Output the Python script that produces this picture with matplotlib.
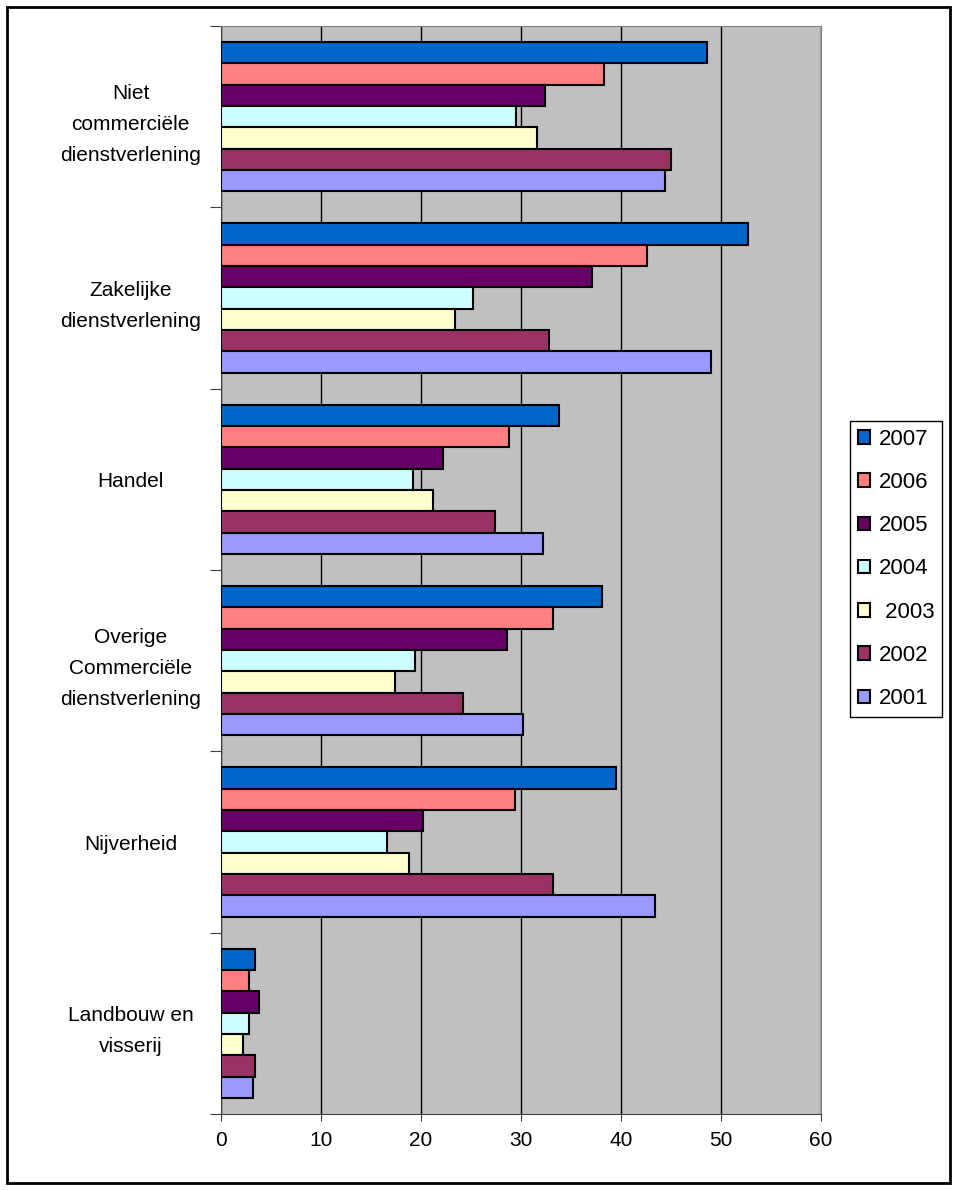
import numpy as np
import matplotlib
matplotlib.use('Agg')
import matplotlib.pyplot as plt
from matplotlib.patches import Rectangle

plt.rcParams['font.family'] = ['Liberation Sans', 'DejaVu Sans']

categories = ['Landbouw en\nvisserij', 'Nijverheid', 'Overige\nCommerciële\ndienstverlening',
              'Handel', 'Zakelijke\ndienstverlening', 'Niet\ncommerciële\ndienstverlening']
years = ['2007', '2006', '2005', '2004', ' 2003', '2002', '2001']
colors = ['#0066CC', '#FF8080', '#660066', '#CCFFFF', '#FFFFCC', '#993366', '#9999FF']

# per jaar, categorieen van onder naar boven
v2007 = [3.4, 39.5, 38.1, 33.8, 52.7, 48.6]
v2006 = [2.8, 29.4, 33.2, 28.8, 42.6, 38.3]
v2005 = [3.8, 20.2, 28.6, 22.2, 37.1, 32.4]
v2004 = [2.8, 16.6, 19.4, 19.2, 25.2, 29.5]
v2003 = [2.2, 18.8, 17.4, 21.2, 23.4, 31.6]
v2002 = [3.4, 33.2, 24.2, 27.4, 32.8, 45.0]
v2001 = [3.2, 43.4, 30.2, 32.2, 49.0, 44.4]
values = [v2007, v2006, v2005, v2004, v2003, v2002, v2001]

fig = plt.figure(figsize=(9.58, 11.91), dpi=100)
ax = fig.add_axes([221/958, 1 - 1114/1191, 600/958, 1088/1191])
ax.set_facecolor('#C0C0C0')

y = np.arange(len(categories))
h = 1 / (len(years) + 1.5)
for j, (yr, vals, c) in enumerate(zip(years, values, colors)):
    ax.barh(y + (3 - j) * h, vals, height=h, color=c, edgecolor='black',
            linewidth=1.5, label=yr, zorder=3)

ax.set_xlim(0, 60)
ax.set_ylim(-0.5, len(categories) - 0.5)
ax.set_xticks(np.arange(0, 61, 10))
ax.tick_params(axis='x', labelsize=15, length=5, color='#404040', pad=7)
ax.grid(axis='x', color='black', linewidth=1, zorder=1)

ax.set_yticks(np.arange(-0.5, len(categories), 1))
ax.set_yticklabels([])
ax.tick_params(axis='y', which='major', length=8, color='#404040')
ax.set_yticks(y, minor=True)
ax.set_yticklabels(categories, minor=True, fontsize=15, ha='center', multialignment='center',
                   linespacing=1.78)
ax.tick_params(axis='y', which='minor', length=0, pad=65)

for s in ['top', 'right']:
    ax.spines[s].set_color('#808080')
for s in ['left', 'bottom']:
    ax.spines[s].set_color('#404040')

fig.legend(loc='upper left', bbox_to_anchor=(850/958, 1 - 421/1191), fontsize=16,
           frameon=True, fancybox=False, edgecolor='black', framealpha=1,
           handlelength=0.55, handleheight=0.55, handletextpad=0.4, labelspacing=1.0,
           borderpad=0.35, borderaxespad=0)

fig.patches.append(Rectangle((7/958, 8/1191), 943/958, 1176/1191, transform=fig.transFigure,
                             fill=False, edgecolor='black', linewidth=2))

fig.savefig('out.png', dpi=100)
